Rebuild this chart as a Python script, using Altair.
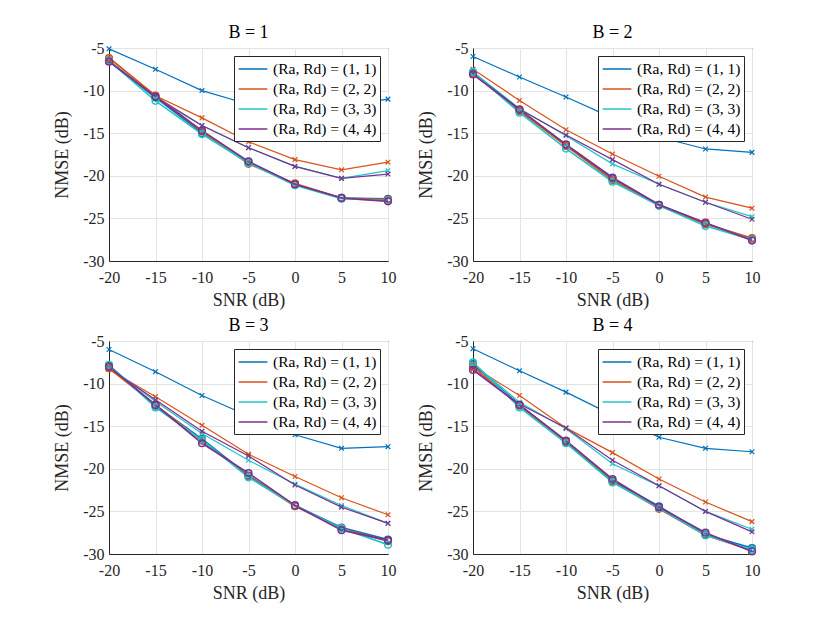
import altair as alt
import pandas as pd

snr = [-20, -15, -10, -5, 0, 5, 10]
configs = ["(Ra, Rd) = (1, 1)", "(Ra, Rd) = (2, 2)", "(Ra, Rd) = (3, 3)", "(Ra, Rd) = (4, 4)"]
colors = ["#0072BD", "#D95319", "#1CC7C9", "#7E2F8E"]

# x-marker series per panel (one list per configuration)
b1_x = [[-5.1, -7.5, -10.0, -11.6, -12.0, -11.8, -11.0],
        [-6.1, -10.6, -13.2, -16.0, -18.1, -19.3, -18.4],
        [-6.5, -10.9, -14.1, -16.7, -18.9, -20.3, -19.4],
        [-6.6, -10.7, -14.1, -16.7, -18.9, -20.3, -19.8]]
b1_o = [[-6.5, -10.8, -15.0, -18.4, -21.0, -22.6, -22.7],
        [-6.2, -10.6, -14.8, -18.6, -20.9, -22.6, -22.8],
        [-6.5, -11.2, -15.1, -18.5, -21.1, -22.7, -22.9],
        [-6.6, -10.7, -14.7, -18.3, -21.0, -22.6, -23.0]]

b2_x = [[-6.0, -8.4, -10.75, -13.2, -15.45, -16.85, -17.25],
        [-7.5, -11.15, -14.6, -17.45, -20.05, -22.5, -23.8],
        [-7.8, -12.1, -15.3, -18.6, -21.0, -23.1, -24.8],
        [-8.0, -12.2, -15.2, -18.1, -21.0, -23.1, -25.1]]
b2_o = [[-7.9, -12.3, -16.4, -20.3, -23.4, -25.6, -27.4],
        [-8.0, -12.4, -16.5, -20.5, -23.5, -25.7, -27.3],
        [-7.8, -12.6, -16.8, -20.7, -23.5, -25.9, -27.5],
        [-8.1, -12.2, -16.3, -20.2, -23.4, -25.5, -27.6]]

b3_x = [[-6.0, -8.6, -11.4, -13.8, -16.0, -17.6, -17.4],
        [-8.35, -11.55, -14.9, -18.3, -20.9, -23.4, -25.4],
        [-8.0, -12.1, -15.85, -19.0, -21.8, -24.3, -26.4],
        [-8.2, -11.9, -15.6, -18.5, -21.9, -24.5, -26.4]]
b3_o = [[-7.9, -12.6, -16.5, -20.8, -24.3, -26.9, -28.3],
        [-8.2, -12.5, -16.7, -20.9, -24.4, -27.0, -28.5],
        [-7.8, -12.8, -16.6, -21.0, -24.3, -27.0, -28.9],
        [-8.0, -12.5, -17.0, -20.5, -24.3, -27.2, -28.4]]

b4_x = [[-5.9, -8.5, -11.0, -13.7, -16.3, -17.6, -18.0],
        [-8.0, -11.4, -15.2, -18.1, -21.2, -23.9, -26.2],
        [-7.6, -12.2, -15.3, -19.4, -22.0, -25.0, -27.1],
        [-8.3, -12.4, -15.2, -19.0, -22.0, -25.0, -27.4]]
b4_o = [[-7.7, -12.5, -16.8, -21.4, -24.4, -27.7, -29.3],
        [-8.0, -12.6, -16.9, -21.5, -24.7, -27.8, -29.6],
        [-7.5, -12.8, -17.0, -21.6, -24.6, -27.8, -29.5],
        [-8.4, -12.5, -16.7, -21.2, -24.5, -27.5, -29.7]]

FONT = "Times New Roman"
XSHAPE = "M -1 -1 L 1 1 M -1 1 L 1 -1"
LEGLINE = "M -1.6 0 L 1.6 0"


def frame(series_x, series_o):
    rows = []
    for ci, cfg in enumerate(configs):
        for kind, ser in (("x", series_x), ("o", series_o)):
            for s, v in zip(snr, ser[ci]):
                rows.append({"snr": s, "nmse": v, "config": cfg, "kind": kind,
                             "sid": f"{ci}-{kind}"})
    return pd.DataFrame(rows)


def panel(title, series_x, series_o):
    df = frame(series_x, series_o)
    x = alt.X("snr:Q", scale=alt.Scale(domain=[-20, 10], nice=False),
              axis=alt.Axis(values=snr, title="SNR (dB)", labelExpr="'' + datum.value",
                            labelFlush=False))
    y = alt.Y("nmse:Q", scale=alt.Scale(domain=[-30, -5], nice=False),
              axis=alt.Axis(values=[-30, -25, -20, -15, -10, -5], title="NMSE (dB)",
                            labelExpr="'' + datum.value", labelFlush=False))
    col_leg = alt.Color("config:N", scale=alt.Scale(domain=configs, range=colors),
                        legend=alt.Legend(title=None, orient="top-right", offset=8,
                                          symbolType=LEGLINE, symbolSize=324,
                                          symbolStrokeWidth=1.5, symbolOffset=6,
                                          labelFontSize=15.5,
                                          labelColor="#000000", padding=3,
                                          rowPadding=1, labelOffset=10,
                                          fillColor="white", strokeColor="#262626"))
    col = alt.Color("config:N", scale=alt.Scale(domain=configs, range=colors), legend=None)
    base = alt.Chart(df)
    lx = base.transform_filter(alt.datum.kind == "x").mark_line(strokeWidth=1.2).encode(
        x=x, y=y, color=col_leg, detail="sid:N")
    lo = base.transform_filter(alt.datum.kind == "o").mark_line(strokeWidth=1.6).encode(
        x=x, y=y, color=col, detail="sid:N")
    px = base.transform_filter(alt.datum.kind == "x").mark_point(
        shape=XSHAPE, size=22, filled=False, strokeWidth=1.2, opacity=1).encode(
        x=x, y=y, color=col)
    po = base.transform_filter(alt.datum.kind == "o").mark_point(
        shape="circle", size=45, filled=False, strokeWidth=1.5, opacity=1).encode(
        x=x, y=y, color=col)
    return alt.layer(lx, lo, px, po).properties(
        width=279, height=213,
        title=alt.TitleParams(title, fontSize=18, fontWeight="normal",
                              fontStyle="normal", color="#000000", offset=-2))


p1 = panel("B = 1", b1_x, b1_o)
p2 = panel("B = 2", b2_x, b2_o)
p3 = panel("B = 3", b3_x, b3_o)
p4 = panel("B = 4", b4_x, b4_o)

top = alt.hconcat(p1, p2, spacing=20).resolve_legend(color="independent").resolve_scale(color="independent")
bottom = alt.hconcat(p3, p4, spacing=20).resolve_legend(color="independent").resolve_scale(color="independent")
chart = alt.vconcat(top, bottom, spacing=6).resolve_legend(color="independent").resolve_scale(color="independent")

chart = chart.properties(
    padding={"left": 45, "top": 15, "right": 5, "bottom": 5},
    background="white",
).configure(font=FONT).configure_view(stroke="#262626", strokeWidth=1).configure_axis(
    labelFontSize=16, labelColor="#262626",
    titleFontSize=18, titleFontWeight="normal", titleColor="#262626",
    domainColor="#262626", ticks=False, gridColor="#e3e3e3", gridWidth=1,
).configure_axisX(labelPadding=8, titlePadding=6).configure_axisY(
    labelPadding=5, titlePadding=11).configure_legend(
    labelFont=FONT).configure_title(font=FONT)

chart.save("out.html", embed_options={"renderer": "svg", "actions": False})
